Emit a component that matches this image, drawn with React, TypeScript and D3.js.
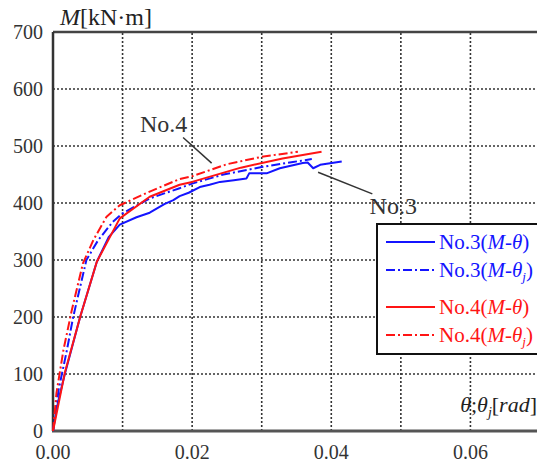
import * as d3 from "d3";

// [theta (rad), M (kN·m)]
const no3MTheta: [number, number][] = [
  [0, 0], [0.0004, 30], [0.0008, 55], [0.0017, 100], [0.0039, 200], [0.0063, 297],
  [0.008, 340], [0.0096, 362], [0.012, 375], [0.0139, 383], [0.016, 398],
  [0.0173, 405], [0.0182, 412], [0.0195, 418], [0.0211, 428], [0.0225, 432],
  [0.024, 437], [0.026, 440], [0.0278, 443], [0.0282, 452], [0.0307, 452],
  [0.0326, 461], [0.0359, 470], [0.0366, 471], [0.0374, 461], [0.0384, 467],
  [0.0415, 473],
];
const no3MThetaJ: [number, number][] = [
  [0, 0], [0.0008, 72], [0.002, 142], [0.0029, 200], [0.0048, 300], [0.0065, 335],
  [0.0086, 367], [0.01, 382], [0.0139, 408], [0.0182, 426], [0.02, 434],
  [0.0245, 450], [0.03, 463], [0.0345, 472], [0.0372, 477],
];
const no4MTheta: [number, number][] = [
  [0, 0], [0.0017, 102], [0.0039, 200], [0.0063, 297], [0.0096, 373], [0.0139, 411],
  [0.0182, 432], [0.02, 437], [0.027, 462], [0.033, 478], [0.0386, 490],
];
const no4MThetaJ: [number, number][] = [
  [0, 0], [0.0005, 67], [0.0015, 142], [0.0027, 212], [0.0043, 294], [0.0058, 335],
  [0.0077, 376], [0.0096, 396], [0.0139, 420], [0.0182, 442], [0.02, 447],
  [0.025, 468], [0.03, 481], [0.0352, 490],
];

const xTickLabels = [0, 0.02, 0.04, 0.06];
const yTicks = [0, 100, 200, 300, 400, 500, 600, 700];

const BLUE = "#1414ff";
const RED = "#ff1414";
const DASHDOT = "9,3,2,3";
const FONT = "Liberation Serif, Tinos, serif";

const series = [
  { name: "No.3", sub: false, data: no3MTheta, color: BLUE, dash: "none" },
  { name: "No.3", sub: true, data: no3MThetaJ, color: BLUE, dash: DASHDOT },
  { name: "No.4", sub: false, data: no4MTheta, color: RED, dash: "none" },
  { name: "No.4", sub: true, data: no4MThetaJ, color: RED, dash: DASHDOT },
];

export default function App() {
  const width = 537;
  const height = 467;
  const x = d3.scaleLinear().domain([0, 0.07]).range([53, 540]);
  const y = d3.scaleLinear().domain([0, 700]).range([431, 32]);
  const line = d3
    .line<[number, number]>()
    .x((d) => x(d[0]))
    .y((d) => y(d[1]));

  const xGrid = d3.range(1, 8).map((i) => i * 0.01);
  const ts = { fontFamily: FONT };

  return (
    <svg
      width={width}
      height={height}
      style={{ position: "absolute", left: 0, top: 0, background: "#fff", fontFamily: FONT }}
    >
      {/* grid */}
      {xGrid.map((t) => (
        <line key={"gx" + t} x1={x(t)} x2={x(t)} y1={y(0)} y2={y(700)}
          stroke="#333" strokeWidth={1.6} strokeDasharray="2,2" />
      ))}
      {yTicks.slice(1, -1).map((t) => (
        <line key={"gy" + t} x1={x(0)} x2={width} y1={y(t)} y2={y(t)}
          stroke="#333" strokeWidth={1.6} strokeDasharray="2,2" />
      ))}
      {/* frame */}
      <line x1={x(0)} x2={width} y1={y(700)} y2={y(700)} stroke="#444" strokeWidth={2.5} />
      <line x1={x(0)} x2={x(0)} y1={y(0)} y2={y(700)} stroke="#333" strokeWidth={2.5} />
      <line x1={x(0) - 1} x2={width} y1={y(0)} y2={y(0)} stroke="#555" strokeWidth={3} />

      {/* y tick labels */}
      {yTicks.map((t) => (
        <text key={"yl" + t} style={ts} x={43} y={y(t) + 7} textAnchor="end" fontSize={20} fill="#333">
          {t}
        </text>
      ))}
      {/* x tick labels */}
      {xTickLabels.map((t) => (
        <text key={"xl" + t} style={ts} x={x(t)} y={459} textAnchor="middle" fontSize={20} fill="#333">
          {t.toFixed(2)}
        </text>
      ))}

      {/* axis titles */}
      <text style={ts} x={60} y={25} fontSize={24} fill="#222">
        <tspan fontStyle="italic">M</tspan>[kN·m]
      </text>
      <text style={ts} x={537} y={412} textAnchor="end" fontSize={22} fill="#222">
        <tspan fontStyle="italic">θ</tspan>;<tspan fontStyle="italic">θ</tspan>
        <tspan fontStyle="italic" fontSize={14} dy={5}>j</tspan>
        <tspan dy={-5}>[</tspan>
        <tspan fontStyle="italic">rad</tspan>]
      </text>

      {/* curves */}
      {series.map((s, i) => (
        <path key={"s" + i} d={line(s.data) ?? ""} fill="none" stroke={s.color}
          strokeWidth={2} strokeDasharray={s.dash} strokeLinejoin="round" />
      ))}

      {/* annotations */}
      <line x1={x(0.0187)} y1={y(515)} x2={x(0.0228)} y2={y(470)} stroke="#333" strokeWidth={1.5} />
      <text style={ts} x={x(0.0125)} y={y(525)} fontSize={24} fill="#333">No.4</text>
      <line x1={x(0.0381)} y1={y(454)} x2={x(0.0459)} y2={y(416)} stroke="#333" strokeWidth={1.5} />
      <text style={ts} x={x(0.0455)} y={y(381)} fontSize={24} fill="#333">No.3</text>

      {/* legend */}
      <rect x={377} y={224} width={180} height={130} fill="#fff" stroke="#111" strokeWidth={2} />
      {series.map((s, i) => {
        const ry = [242, 270, 307, 335][i];
        return (
          <g key={"lg" + i}>
            <line x1={386} x2={435} y1={ry} y2={ry} stroke={s.color} strokeWidth={2}
              strokeDasharray={s.dash} />
            <text style={ts} x={439} y={ry + 7} fontSize={21} fill={s.color}>
              {s.name}(<tspan fontStyle="italic">M</tspan>-<tspan fontStyle="italic">θ</tspan>
              {s.sub ? (
                <>
                  <tspan fontStyle="italic" fontSize={13} dy={4}>j</tspan>
                  <tspan dy={-4}>)</tspan>
                </>
              ) : (
                ")"
              )}
            </text>
          </g>
        );
      })}
    </svg>
  );
}
